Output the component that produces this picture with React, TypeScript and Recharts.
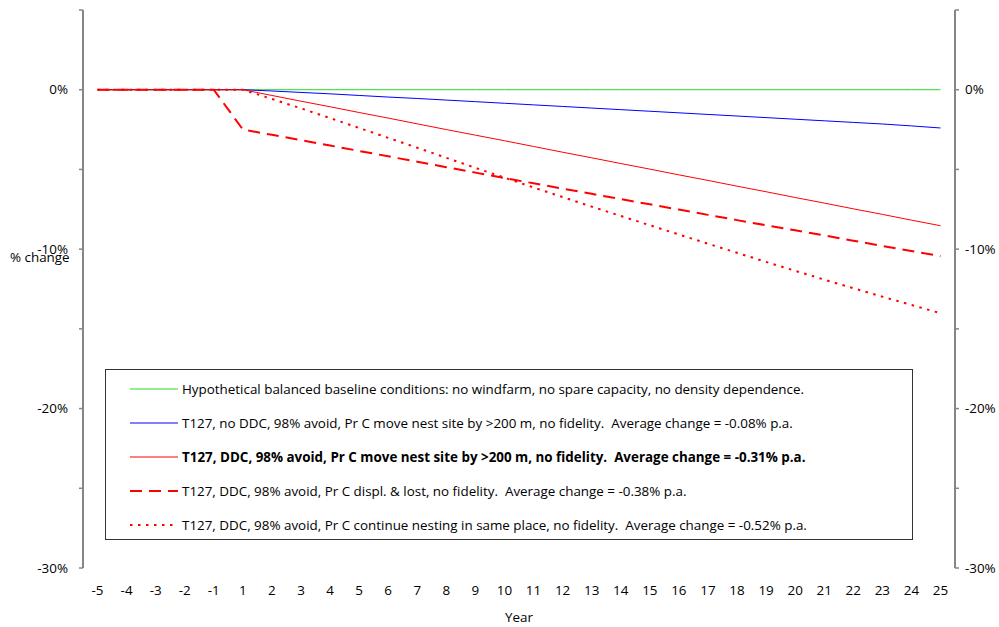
import React from 'react';
import { LineChart, Line, XAxis, YAxis, Legend } from 'recharts';

const years = [-5, -4, -3, -2, -1, 1, 2, 3, 4, 5, 6, 7, 8, 9, 10, 11, 12, 13, 14, 15, 16, 17, 18, 19, 20, 21, 22, 23, 24, 25];

const baseline = [0, 0, 0, 0, 0, 0, 0, 0, 0, 0, 0, 0, 0, 0, 0, 0, 0, 0, 0, 0, 0, 0, 0, 0, 0, 0, 0, 0, 0, 0];

const noDdcMove = [0, 0, 0, 0, 0, 0, -0.08, -0.17, -0.26, -0.36, -0.46, -0.55, -0.65, -0.75, -0.85, -0.95, -1.05, -1.15, -1.25, -1.35, -1.45, -1.55, -1.65, -1.75, -1.85, -1.95, -2.05, -2.15, -2.27, -2.4];

const ddcMove = [0, 0, 0, 0, 0, 0, -0.36, -0.72, -1.07, -1.43, -1.78, -2.14, -2.5, -2.85, -3.2, -3.56, -3.92, -4.27, -4.63, -4.98, -5.34, -5.69, -6.05, -6.4, -6.76, -7.11, -7.47, -7.82, -8.18, -8.53];

const ddcDisplLost = [0, 0, 0, 0, 0, -2.5, -2.83, -3.16, -3.5, -3.84, -4.18, -4.52, -4.86, -5.2, -5.54, -5.87, -6.2, -6.53, -6.86, -7.19, -7.52, -7.85, -8.18, -8.5, -8.82, -9.14, -9.47, -9.8, -10.12, -10.44];

const ddcContinue = [0, 0, 0, 0, 0, 0, -0.58, -1.17, -1.78, -2.4, -3.02, -3.64, -4.27, -4.9, -5.52, -6.13, -6.73, -7.33, -7.92, -8.5, -9.08, -9.66, -10.23, -10.8, -11.36, -11.91, -12.45, -12.98, -13.5, -14.02];

const yTicks = [5, 0, -5, -10, -15, -20, -25, -30];

const seriesNames = [
  'Hypothetical balanced baseline conditions: no windfarm, no spare capacity, no density dependence.',
  'T127, no DDC, 98% avoid, Pr C move nest site by >200 m, no fidelity.  Average change = -0.08% p.a.',
  'T127, DDC, 98% avoid, Pr C move nest site by >200 m, no fidelity.  Average change = -0.31% p.a.',
  'T127, DDC, 98% avoid, Pr C displ. & lost, no fidelity.  Average change = -0.38% p.a.',
  'T127, DDC, 98% avoid, Pr C continue nesting in same place, no fidelity.  Average change = -0.52% p.a.',
];

const seriesKeys = ['baseline', 'noDdcMove', 'ddcMove', 'ddcDisplLost', 'ddcContinue'];

const seriesStyles = [
  { color: '#22dd22', width: 1, dash: undefined as string | undefined, bold: false },
  { color: '#0000ff', width: 1, dash: undefined as string | undefined, bold: false },
  { color: '#ff0000', width: 1, dash: undefined as string | undefined, bold: true },
  { color: '#ff0000', width: 2, dash: '12 7' as string | undefined, bold: false },
  { color: '#ff0000', width: 2, dash: '2.5 5.5' as string | undefined, bold: false },
];

const data = years.map((y, i) => ({
  i,
  year: y,
  baseline: baseline[i],
  noDdcMove: noDdcMove[i],
  ddcMove: ddcMove[i],
  ddcDisplLost: ddcDisplLost[i],
  ddcContinue: ddcContinue[i],
}));

const boundaryTicks = years.map((_, i) => i - 0.5).concat([years.length - 0.5]);
const labelTicks = years.map((_, i) => i);

const FONT = '"Open Sans", Lato, sans-serif';
const FS = 13.4;
const AXIS = '#868686';

const renderLegend = () => (
  <div
    style={{
      width: 808,
      height: 171,
      boxSizing: 'border-box',
      border: '1px solid #333',
      background: '#fff',
      fontFamily: FONT,
      fontSize: FS,
      color: '#000',
      paddingTop: 2,
    }}
  >
    {seriesNames.map((name, k) => {
      const st = seriesStyles[k];
      return (
        <div key={k} style={{ display: 'flex', alignItems: 'center', height: 34 }}>
          <svg width={48} height={6} style={{ marginLeft: 24, display: 'block' }}>
            <line x1={0} y1={3} x2={48} y2={3} stroke={st.color} strokeWidth={st.width} strokeDasharray={st.dash} />
          </svg>
          <span style={{ marginLeft: 4, whiteSpace: 'pre', fontWeight: st.bold ? 700 : 400 }}>{name}</span>
        </div>
      );
    })}
  </div>
);

export default function App() {
  return (
    <div style={{ position: 'absolute', left: 0, top: 0, width: 999, height: 627, background: '#fff' }}>
      <LineChart width={999} height={627} data={data} margin={{ top: 10, right: 0, bottom: 0, left: 0 }}>
        <XAxis
          xAxisId="a"
          dataKey="i"
          type="number"
          domain={[-0.5, 29.5]}
          ticks={boundaryTicks}
          allowDataOverflow
          tick={false}
          tickSize={5}
          height={0}
          axisLine={{ stroke: AXIS, strokeWidth: 2 }}
          tickLine={{ stroke: AXIS, strokeWidth: 1.5 }}
        />
        <XAxis
          xAxisId="b"
          dataKey="i"
          type="number"
          domain={[-0.5, 29.5]}
          ticks={labelTicks}
          allowDataOverflow
          interval={0}
          axisLine={false}
          tickLine={false}
          tickSize={0}
          tickMargin={17}
          height={59}
          tickFormatter={(v: number) => String(years[v])}
          tick={{ fontFamily: FONT, fontSize: FS, fill: '#000' }}
          label={{ value: 'Year', position: 'insideBottom', offset: 5, fontFamily: FONT, fontSize: FS, fill: '#000' }}
        />
        <YAxis
          yAxisId="left"
          width={83}
          domain={[-30, 5]}
          ticks={yTicks}
          allowDataOverflow
          interval={0}
          tickFormatter={(v: number) => (v % 10 === 0 ? `${v}%` : '')}
          tickSize={4}
          tickMargin={11}
          axisLine={{ stroke: AXIS, strokeWidth: 2 }}
          tickLine={{ stroke: AXIS, strokeWidth: 1.5 }}
          tick={{ fontFamily: FONT, fontSize: FS, fill: '#000' }}
          label={{ value: '% change', position: 'insideLeft', offset: 10, dy: -32, fontFamily: FONT, fontSize: FS, fill: '#000' }}
        />
        <YAxis
          yAxisId="right"
          orientation="right"
          width={44}
          domain={[-30, 5]}
          ticks={yTicks}
          allowDataOverflow
          interval={0}
          tickFormatter={(v: number) => (v % 10 === 0 ? `${v}%` : '')}
          tickSize={4}
          tickMargin={6}
          axisLine={{ stroke: AXIS, strokeWidth: 2 }}
          tickLine={{ stroke: AXIS, strokeWidth: 1.5 }}
          tick={{ fontFamily: FONT, fontSize: FS, fill: '#000' }}
        />
        <Legend
          layout="horizontal"
          verticalAlign="middle"
          align="center"
          content={renderLegend}
          wrapperStyle={{ position: 'absolute', left: 105, top: 369, width: 808, height: 171 }}
        />
        {seriesKeys.map((key, k) => (
          <Line
            key={key}
            xAxisId="a"
            yAxisId="left"
            dataKey={key}
            name={seriesNames[k]}
            type="linear"
            stroke={seriesStyles[k].color}
            strokeWidth={seriesStyles[k].width}
            strokeDasharray={seriesStyles[k].dash}
            dot={false}
            activeDot={false}
            isAnimationActive={false}
          />
        ))}
      </LineChart>
    </div>
  );
}
